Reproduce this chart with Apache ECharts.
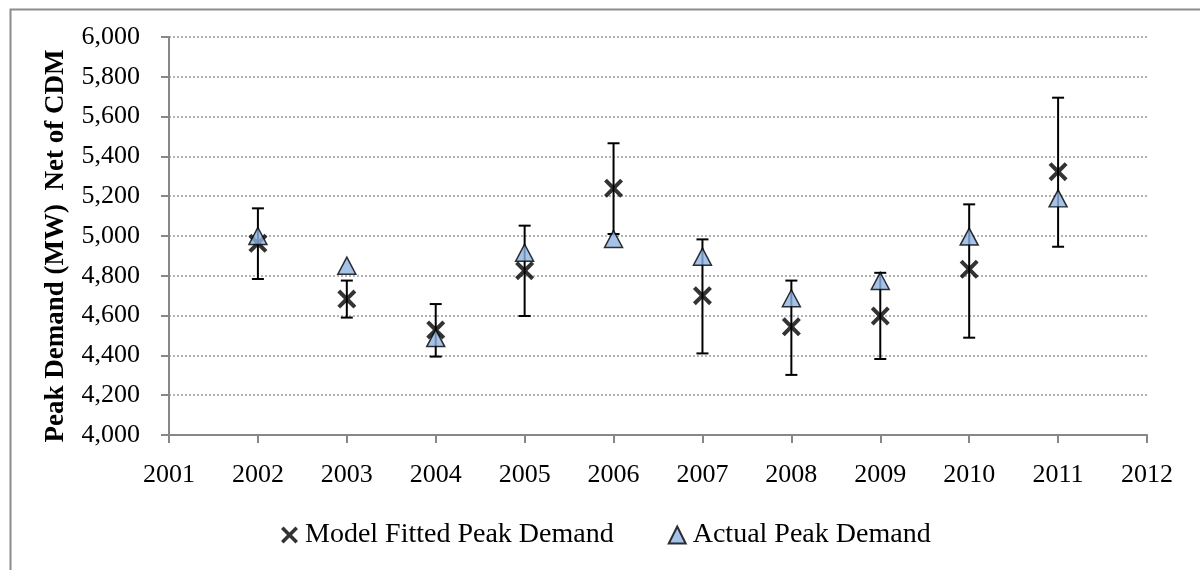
<!DOCTYPE html>
<html>
<head>
<meta charset="utf-8">
<script src="https://cdn.jsdelivr.net/npm/echarts@6/dist/echarts.min.js"></script>
<style>
html,body{margin:0;padding:0;background:#fff;}
#chart{width:1200px;height:570px;}
</style>
</head>
<body>
<div id="chart"></div>
<script>
const years = [2002, 2003, 2004, 2005, 2006, 2007, 2008, 2009, 2010, 2011];
const fitted = [4963, 4683, 4528, 4826, 5240, 4700, 4544, 4598, 4833, 5323];
const actual = [5000, 4851, 4487, 4916, 4985, 4896, 4687, 4774, 4997, 5189];
const errLow = [4784, 4590, 4394, 4598, 5010, 4410, 4302, 4382, 4489, 4946];
const errHigh = [5139, 4776, 4658, 5052, 5466, 4983, 4776, 4815, 5159, 5695];

const xMin = 2001, xMax = 2012;
const yMin = 4000, yMax = 6000, yStep = 200;

const FONT = '"Liberation Serif", "DejaVu Serif", serif';
const xPath = 'path://M0,3 L3,0 L10,7 L17,0 L20,3 L13,10 L20,17 L17,20 L10,13 L3,20 L0,17 L7,10 Z';

const chart = echarts.init(document.getElementById('chart'));
const option = {
  backgroundColor: '#fff',
  animation: false,
  graphic: [{
    type: 'rect', left: 8, top: 7, z: -1,
    shape: { width: 1300, height: 700 },
    style: { fill: 'none', stroke: '#8c8c8c', lineWidth: 2 }
  }],
  grid: { left: 169, right: 53, top: 37, bottom: 135 },
  legend: {
    top: 516, left: 276, itemGap: 54, itemWidth: 17, itemHeight: 17,
    textStyle: { fontFamily: FONT, fontSize: 28, color: '#000', padding: [0, 0, 0, 2] },
    data: [
      { name: 'Model Fitted Peak Demand', icon: xPath },
      { name: 'Actual Peak Demand', icon: 'triangle' }
    ]
  },
  xAxis: {
    type: 'value', min: xMin, max: xMax, interval: 1,
    axisLine: { lineStyle: { color: '#878787', width: 2 } },
    axisTick: { show: true, length: 8, lineStyle: { color: '#878787', width: 2 } },
    splitLine: { show: false },
    axisLabel: { fontFamily: FONT, fontSize: 26, color: '#000', margin: 27, formatter: v => String(v) }
  },
  yAxis: {
    type: 'value', min: yMin, max: yMax, interval: yStep,
    name: 'Peak Demand (MW)  Net of CDM',
    nameLocation: 'middle', nameGap: 99, nameRotate: 90,
    nameTextStyle: { fontFamily: FONT, fontSize: 27, fontWeight: 'bold', color: '#000', padding: [0, 20, 0, 0] },
    axisLine: { show: true, lineStyle: { color: '#878787', width: 2 } },
    axisTick: { show: true, length: 8, lineStyle: { color: '#878787', width: 2 } },
    splitLine: { show: true, lineStyle: { color: '#9a9a9a', width: 1.5, type: [2, 2] } },
    axisLabel: { fontFamily: FONT, fontSize: 26, color: '#000', margin: 29,
      formatter: v => v.toLocaleString('en-US') }
  },
  series: [
    {
      type: 'custom', name: 'err', z: 2, silent: true,
      data: years.map((y, i) => [y, errLow[i], errHigh[i]]),
      encode: { x: 0, y: [1, 2] },
      renderItem: function (params, api) {
        const x = api.value(0);
        const lo = api.coord([x, api.value(1)]);
        const hi = api.coord([x, api.value(2)]);
        const w = 6;
        const st = { stroke: '#000', lineWidth: 2 };
        return {
          type: 'group',
          children: [
            { type: 'line', shape: { x1: lo[0], y1: lo[1], x2: hi[0], y2: hi[1] }, style: st },
            { type: 'line', shape: { x1: hi[0] - w, y1: hi[1], x2: hi[0] + w, y2: hi[1] }, style: st },
            { type: 'line', shape: { x1: lo[0] - w, y1: lo[1], x2: lo[0] + w, y2: lo[1] }, style: st }
          ]
        };
      }
    },
    {
      type: 'scatter', name: 'Model Fitted Peak Demand', z: 3,
      symbol: xPath, symbolSize: 19,
      itemStyle: { color: '#000' },
      data: years.map((y, i) => [y, fitted[i]])
    },
    {
      type: 'scatter', name: 'Actual Peak Demand', z: 4,
      symbol: 'triangle', symbolSize: [18, 17],
      itemStyle: { color: '#8eb4e3', borderColor: '#000', borderWidth: 1.5 },
      data: years.map((y, i) => [y, actual[i]])
    }
  ]
};
chart.setOption(option);
</script>
</body>
</html>
